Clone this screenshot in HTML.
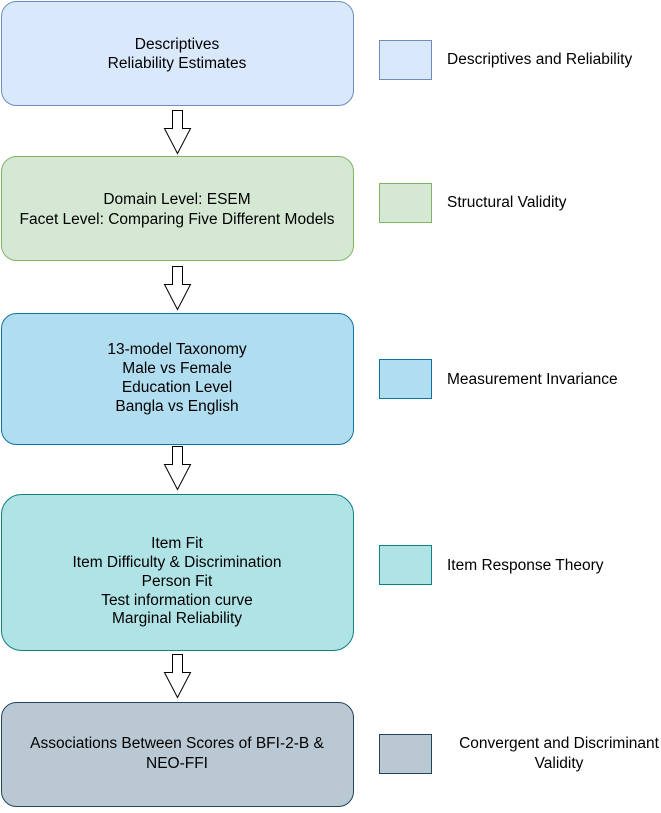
<!DOCTYPE html>
<html><head><meta charset="utf-8"><style>body{margin:0;background:#fff}</style></head><body>
<svg width="661" height="808" xmlns="http://www.w3.org/2000/svg" font-family="Liberation Sans, Helvetica, sans-serif" font-size="15.5" fill="#000">
<rect x="1.5" y="1.5" width="352" height="104" rx="15" fill="#dae8fc" stroke="#6c8ebf"/>
<rect x="1.5" y="156.5" width="352" height="104" rx="15" fill="#d5e8d4" stroke="#82b366"/>
<rect x="1.5" y="313.5" width="352" height="131" rx="15" fill="#b1ddf0" stroke="#10739e"/>
<rect x="1.5" y="494.5" width="352" height="156" rx="20" fill="#b0e3e6" stroke="#0e8088"/>
<rect x="1.5" y="702.5" width="352" height="104" rx="15" fill="#bac8d3" stroke="#23445d"/>
<g fill="#fff" stroke="#000" stroke-width="1">
<path d="M172.5 110.5h10v18h8l-13 25l-13-25h8z"/>
<path d="M172.5 266.5h10v18h8l-13 25l-13-25h8z"/>
<path d="M172.5 446.5h10v18h8l-13 25l-13-25h8z"/>
<path d="M172.5 654.5h10v18h8l-13 25l-13-25h8z"/>
</g>
<rect x="379.5" y="40.5" width="52" height="39" fill="#dae8fc" stroke="#6c8ebf"/>
<rect x="379.5" y="183.5" width="52" height="39" fill="#d5e8d4" stroke="#82b366"/>
<rect x="379.5" y="359.5" width="52" height="39" fill="#b1ddf0" stroke="#10739e"/>
<rect x="379.5" y="545.5" width="52" height="39" fill="#b0e3e6" stroke="#0e8088"/>
<rect x="379.5" y="734.5" width="52" height="39" fill="#bac8d3" stroke="#23445d"/>
<g text-anchor="middle">
<text x="177" y="49">Descriptives</text>
<text x="177" y="68">Reliability Estimates</text>
<text x="177" y="204">Domain Level: ESEM</text>
<text x="177" y="224">Facet Level: Comparing Five Different Models</text>
<text x="177" y="354">13-model Taxonomy</text>
<text x="177" y="373">Male vs Female</text>
<text x="177" y="392">Education Level</text>
<text x="177" y="411">Bangla vs English</text>
<text x="177" y="548">Item Fit</text>
<text x="177" y="567">Item Difficulty &amp; Discrimination</text>
<text x="177" y="586">Person Fit</text>
<text x="177" y="605">Test information curve</text>
<text x="177" y="623">Marginal Reliability</text>
<text x="177" y="748">Associations Between Scores of BFI-2-B &amp;</text>
<text x="177" y="768">NEO-FFI</text>
<text x="559" y="748">Convergent and Discriminant</text>
<text x="559" y="768">Validity</text>
</g>
<text x="447" y="64">Descriptives and Reliability</text>
<text x="447" y="207">Structural Validity</text>
<text x="447" y="384">Measurement Invariance</text>
<text x="447" y="570">Item Response Theory</text>
</svg>
</body></html>
